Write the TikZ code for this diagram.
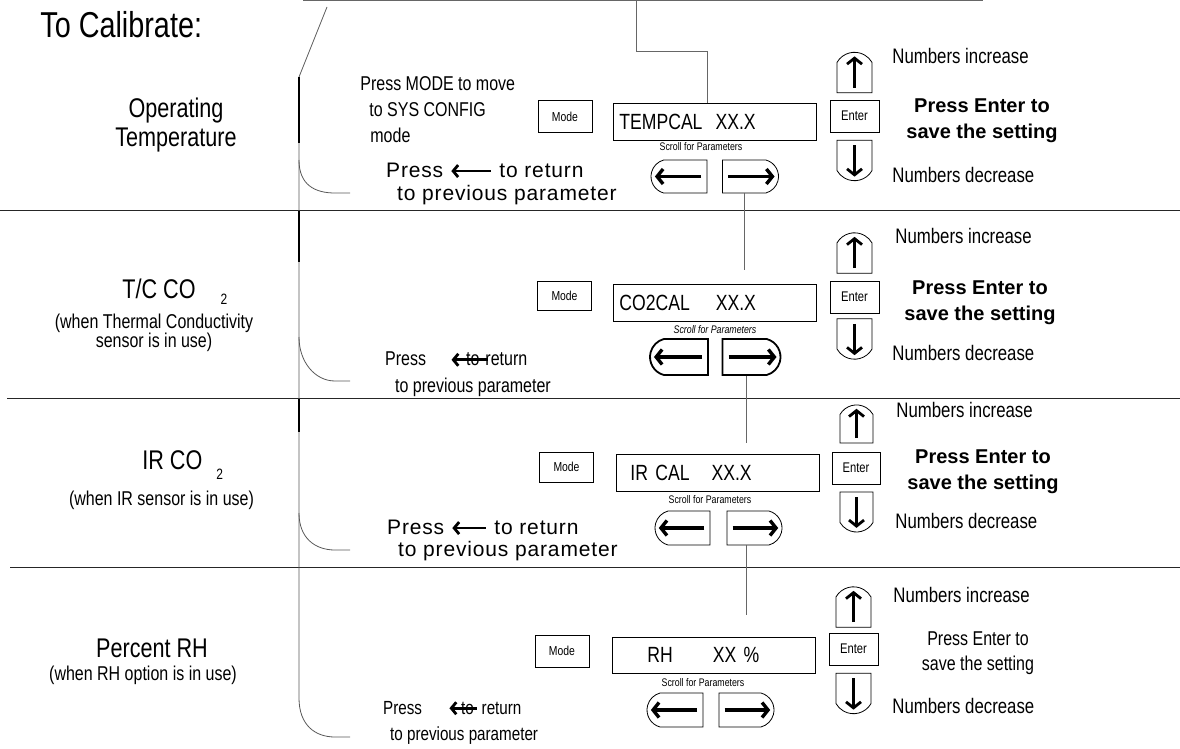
\documentclass[tikz,border=0pt]{standalone}
\usepackage{fontspec}
\setmainfont{Liberation Sans}
\newfontfamily\cf{Liberation Sans}[FakeStretch=0.8]
\newfontfamily\wide{Liberation Sans}[LetterSpace=4]
\usetikzlibrary{shapes.misc, arrows.meta, calc}
\newcommand\setfs[2]{\fontsize{#1}{#2}\selectfont}
\newcommand\larr[1]{\tikz[baseline=-6pt]\draw[line width=2.8pt, {Straight Barb[length=5pt, width=12pt]}-] (0pt,0pt) -- (#1,0pt);}

\begin{document}
\begin{tikzpicture}[x=1pt, y=-1pt, line width=0.8pt,
  head/.style={inner sep=0pt, align=center, font=\cf\setfs{27}{29}},
  sub/.style={inner sep=0pt, align=center, font=\cf\setfs{20}{19}},
  modekey/.style={draw, inner sep=0pt, minimum width=54pt, minimum height=32pt, font=\cf\setfs{13}{14}},
  enterkey/.style={draw, inner sep=0pt, minimum width=49pt, minimum height=32pt, font=\cf\setfs{14}{14}},
  screen/.style={draw, anchor=west, inner sep=0pt, text width=203pt, align=left, minimum height=37pt, font=\cf\setfs{22}{24}},
  scroll/.style={inner sep=0pt, font=\cf\setfs{11}{12}},
  keyarrow/.style={line width=3.4pt, -{Straight Barb[length=6pt, width=15pt]}},
  key/.style={draw, rounded rectangle, inner sep=0pt},
  lkey/.style={key, rounded rectangle right arc=none, rounded rectangle arc length=150, minimum width=56pt, minimum height=33pt,
    path picture={\draw[keyarrow] ($(path picture bounding box.east)!0.1!(path picture bounding box.west)$) -- ($(path picture bounding box.west)!0.1!(path picture bounding box.east)$);}},
  rkey/.style={key, rounded rectangle left arc=none, rounded rectangle arc length=150, minimum width=56pt, minimum height=33pt,
    path picture={\draw[keyarrow] ($(path picture bounding box.west)!0.1!(path picture bounding box.east)$) -- ($(path picture bounding box.east)!0.1!(path picture bounding box.west)$);}},
  upkey/.style={key, rounded rectangle right arc=none, rounded rectangle arc length=120, rotate=-90, minimum width=39pt, minimum height=35pt,
    path picture={\draw[keyarrow, line width=2.8pt] ($(path picture bounding box.south)!0.12!(path picture bounding box.north)$) -- ($(path picture bounding box.north)!0.16!(path picture bounding box.south)$);}},
  dnkey/.style={key, rounded rectangle left arc=none, rounded rectangle arc length=120, rotate=-90, minimum width=39pt, minimum height=35pt,
    path picture={\draw[keyarrow, line width=2.8pt] ($(path picture bounding box.north)!0.12!(path picture bounding box.south)$) -- ($(path picture bounding box.south)!0.16!(path picture bounding box.north)$);}},
  numtxt/.style={inner sep=0pt, anchor=base west, font=\cf\setfs{21}{24}},
  savetxt/.style={inner sep=0pt, align=center, font=\bfseries\setfs{20}{26}},
  back/.style={inner sep=0pt, anchor=west, align=left, font=\wide\setfs{21}{23}},
  wire/.style={draw=black!60},
  brk/.style={draw=black!65},
  rule/.style={draw=black!85, line width=1pt}
]
\useasboundingbox (0,0) rectangle (1180,749);

% titles on the left
\node[inner sep=0pt, anchor=base west, font=\cf\setfs{36}{40}] (title) at (40,38) {To Calibrate:};
\node[head] (h1) at (176,125) {Operating\\Temperature};
\node[head, anchor=base west] (h2) at (122,298) {T/C CO\hspace{25pt}\raisebox{-6pt}{\setfs{15}{15}2}};
\node[sub] (s2) at (154,333) {(when Thermal Conductivity\\sensor is in use)};
\node[head, anchor=base west] (h3) at (142,469) {IR CO\hspace{14pt}\raisebox{-10pt}{\setfs{15}{15}2}};
\node[sub, anchor=base] (s3) at (161.5,505) {(when IR sensor is in use)};
\node[head, anchor=base] (h4) at (152,657) {Percent RH};
\node[sub, anchor=base] (s4) at (143,680) {(when RH option is in use)};

% panel dividers
\draw[rule] (0,210) -- (1180,210);
\draw[rule] (7,398) -- (1180,398);
\draw[rule] (10,567) -- (1180,567);

% bracket
\draw[brk] (327,7) -- (299,77) -- (299,698) .. controls (299,725) and (315,737) .. (335,737) -- (350,737);
\foreach \a/\b in {160/193, 337/381, 513/550}
  \draw[brk] (299,\a) .. controls (299,\a+25) and (315,\b) .. (335,\b) -- (350,\b);
\foreach \a/\b in {77/143, 211/262, 399/432}
  \draw[line width=1.8pt] (299,\a) -- (299,\b);

% panel 1
\node[back, font=\cf\setfs{20}{26}] (p0) at (360,109.5) {Press MODE to move\\\hspace*{9pt}to SYS CONFIG\\\hspace*{10pt}mode};
\node[modekey] (mode1) at (565,116.5) {Mode};
\node[screen] (disp1) at (613,121.5) {\hspace*{6pt}TEMPCAL\hspace{13pt}XX.X};
\node[scroll] (sc1) at (701,147) {Scroll for Parameters};
\node[lkey] (lb1) at (679,176.5) {};
\node[rkey] (rb1) at (750.5,176.5) {};
\node[upkey] (up1) at (854.5,72.5) {};
\node[enterkey] (ent1) at (854.5,116) {Enter};
\node[dnkey] (dn1) at (854.5,160.5) {};
\node[numtxt] (inc1) at (892,64) {Numbers increase};
\node[savetxt] (save1) at (982,120.5) {Press Enter to\\save the setting};
\node[numtxt] (dec1) at (892,182) {Numbers decrease};
\node[back] (p1) at (386,183.5) {Press \larr{40pt} to return\\\hspace*{11pt}to previous parameter};

% panel 2
\node[modekey, minimum height=29pt] (mode2) at (564.5,295.5) {Mode};
\node[screen] (disp2) at (613,302.5) {\hspace*{6pt}CO2CAL\hspace{26pt}XX.X};
\node[scroll, font=\cf\itshape\setfs{11}{12}] (sc2) at (715,330) {Scroll for Parameters};
\node[lkey, line width=1.8pt, minimum width=58pt, minimum height=36pt] (lb2) at (679,357) {};
\node[rkey, line width=1.8pt, minimum width=58pt, minimum height=36pt] (rb2) at (751.5,357) {};
\node[upkey] (up2) at (854.5,253) {};
\node[enterkey] (ent2) at (854.5,297) {Enter};
\node[dnkey, minimum width=36pt] (dn2) at (854.5,339) {};
\node[numtxt] (inc2) at (895,243) {Numbers increase};
\node[savetxt] (save2) at (980,303) {Press Enter to\\save the setting};
\node[numtxt] (dec2) at (892,360) {Numbers decrease};
\node[back, font=\cf\setfs{20}{27}] (p2) at (385,374.5) {Press\hspace{24pt}\rlap{\larr{36pt}}\hspace{16pt}to\hspace{6pt}return\\\hspace*{10pt}to previous parameter};

% panel 3
\node[modekey, minimum height=30pt] (mode3) at (566.5,467) {Mode};
\node[screen] (disp3) at (616,473) {\hspace*{14pt}IR CAL\hspace{22pt}XX.X};
\node[scroll] (sc3) at (710,500) {Scroll for Parameters};
\node[lkey, minimum width=55pt, minimum height=34pt] (lb3) at (682.5,528) {};
\node[rkey, minimum width=55pt, minimum height=34pt] (rb3) at (754.5,528) {};
\node[upkey, minimum height=33pt, minimum width=38pt] (up3) at (856.5,424) {};
\node[enterkey, minimum width=48pt] (ent3) at (856,468) {Enter};
\node[dnkey, minimum height=33pt, minimum width=40pt] (dn3) at (856.5,512) {};
\node[numtxt] (inc3) at (896,417) {Numbers increase};
\node[savetxt] (save3) at (983,472) {Press Enter to\\save the setting};
\node[numtxt] (dec3) at (895,528) {Numbers decrease};
\node[back, font=\wide\setfs{21}{22}] (p3) at (387,540) {Press \larr{34pt} to return\\\hspace*{11pt}to previous parameter};

% panel 4
\node[modekey] (mode4) at (562,651) {Mode};
\node[screen, minimum height=36pt] (disp4) at (612,655) {\hspace*{35pt}RH\hspace{40pt}XX \%};
\node[scroll] (sc4) at (703,683) {Scroll for Parameters};
\node[lkey, minimum height=34pt] (lb4) at (675,710) {};
\node[rkey, minimum width=55pt, minimum height=34pt] (rb4) at (746.5,710) {};
\node[upkey, minimum width=38pt] (up4) at (853.5,607) {};
\node[enterkey] (ent4) at (853.5,649) {Enter};
\node[dnkey] (dn4) at (853.5,693.5) {};
\node[numtxt] (inc4) at (893,602) {Numbers increase};
\node[savetxt, font=\cf\setfs{20}{25}] (save4) at (978,653) {Press Enter to\\save the setting};
\node[numtxt] (dec4) at (892,713) {Numbers decrease};
\node[back, font=\cf\setfs{19}{26}] (p4) at (383,722.5) {Press\hspace{26pt}\rlap{\larr{28pt}}\hspace{13pt}to\hspace{8pt}return\\\hspace*{7pt}to previous parameter};

% connectors
\coordinate (knee) at (707,51);
\draw[wire] (303,0.5) -- (983,0.5);
\draw[wire] (636,0.5) |- (knee) -- (knee |- disp1.north);
\coordinate (g2) at (744,270);
\coordinate (g3) at (746,443);
\coordinate (g4) at (746,615);
\draw[wire] (rb1.south -| g2) -- (g2);
\draw[wire] (rb2.south -| g3) -- (g3);
\draw[wire] (rb3.south -| g4) -- (g4);
\end{tikzpicture}
\end{document}
